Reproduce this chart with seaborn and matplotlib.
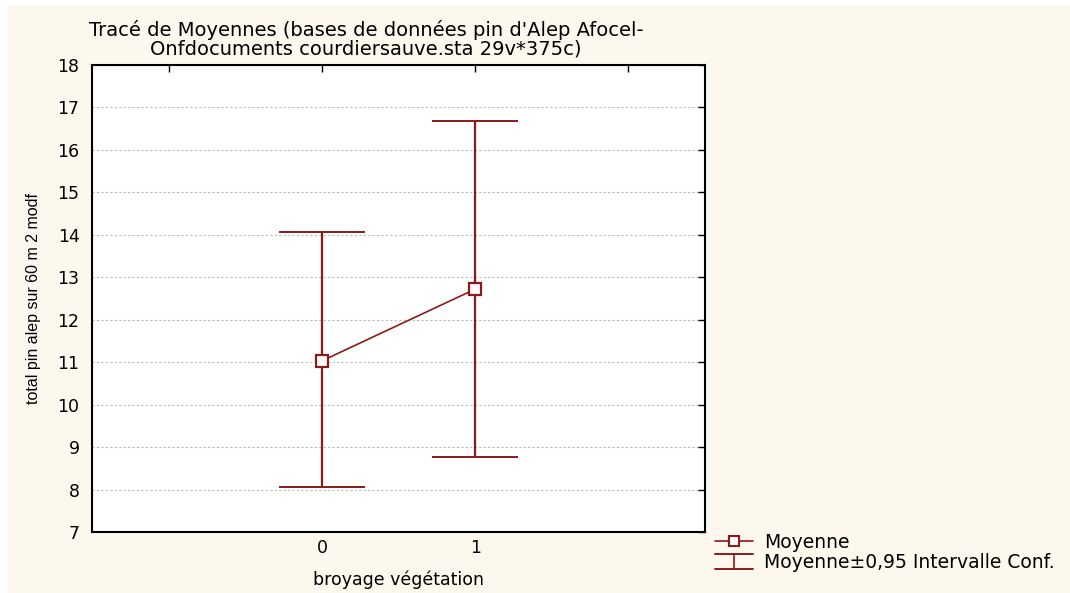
import numpy as np
import pandas as pd
import matplotlib
matplotlib.use("Agg")
import matplotlib.pyplot as plt
import seaborn as sns
from matplotlib.lines import Line2D
from matplotlib.legend_handler import HandlerBase
from matplotlib.patches import Rectangle

# ----------------------------------------
# DATA
# ----------------------------------------
groups = [0, 1]
means = [11.03, 12.72]
ci_low = [8.05, 8.77]
ci_high = [14.07, 16.68]

title = ("Tracé de Moyennes (bases de données pin d'Alep Afocel-\n"
         "Onfdocuments courdiersauve.sta 29v*375c)")
x_label = "broyage végétation"
y_label = "total pin alep sur 60 m 2 modf"
legend_labels = ["Moyenne", "Moyenne±0,95 Intervalle Conf."]

df = pd.DataFrame({"groupe": groups, "moyenne": means,
                   "bas": ci_low, "haut": ci_high})

# ----------------------------------------
# STYLE
# ----------------------------------------
sns.set_style("white")
plt.rcParams["font.family"] = ["DejaVu Sans"]
plt.rcParams["text.color"] = "black"
plt.rcParams["axes.labelcolor"] = "black"

red = "#8B1A1A"
cream = "#FDF8EE"

fig = plt.figure(figsize=(10.7, 5.93), dpi=100, facecolor="white")
fig.patches.append(Rectangle((8 / 1070, 0), 1, 1 - 5 / 593,
                             transform=fig.transFigure, facecolor=cream,
                             edgecolor="none", zorder=-10))
ax = fig.add_axes([92 / 1070, 1 - 532 / 593, (705 - 92) / 1070, (532 - 65) / 593])
ax.set_facecolor("white")

# confidence interval bars
yerr = np.array([df["moyenne"] - df["bas"], df["haut"] - df["moyenne"]])
ax.errorbar(df["groupe"], df["moyenne"], yerr=yerr, fmt="none",
            ecolor=red, elinewidth=1.6, capsize=31, capthick=1.4, zorder=2)

# mean line + markers
sns.lineplot(data=df, x="groupe", y="moyenne", ax=ax, color=red,
             linewidth=1.2, marker="s", markersize=8.5,
             markerfacecolor="white", markeredgecolor=red,
             markeredgewidth=1.6, zorder=3)

# ----------------------------------------
# AXES
# ----------------------------------------
ax.set_xlim(-1.5, 2.5)
ax.set_ylim(7, 18)
ax.set_xticks([-1, 0, 1, 2])
ax.set_xticklabels(["", "0", "1", ""])
ax.set_yticks(np.arange(7, 19, 1))
ax.tick_params(direction="in", length=5, width=1, top=True, right=True,
               labelsize=12.5, colors="black")
ax.tick_params(axis="y", pad=9)
ax.tick_params(axis="x", pad=5)
ax.yaxis.grid(True, linestyle=(0, (2, 2)), color="#BBBBBB", linewidth=0.8)
ax.xaxis.grid(False)
for s in ax.spines.values():
    s.set_color("black")
    s.set_linewidth(1.5)

ax.set_xlabel(x_label, fontsize=12.5)
ax.xaxis.set_label_coords(0.5, -0.083)
ax.set_ylabel(y_label, fontsize=11.5, family=["Liberation Sans", "DejaVu Sans"])
ax.yaxis.set_label_coords(-0.083, 0.5)

fig.text(366 / 1070, 1 - 39 / 593, title, ha="center", va="center",
         fontsize=14, linespacing=1.0)


# ----------------------------------------
# LEGEND
# ----------------------------------------
class MeanHandler(HandlerBase):
    def create_artists(self, legend, orig, xd, yd, w, h, fs, trans):
        y = yd + h / 2
        line = Line2D([xd, xd + w], [y, y], color=red, lw=1.2, transform=trans)
        mk = Line2D([xd + w / 2], [y], marker="s", markersize=7.5,
                    markerfacecolor="white", markeredgecolor=red,
                    markeredgewidth=1.5, transform=trans)
        return [line, mk]


class CIHandler(HandlerBase):
    def create_artists(self, legend, orig, xd, yd, w, h, fs, trans):
        y = yd + h / 2
        top = y + 6
        bot = y - 5
        a = Line2D([xd, xd + w], [top, top], color=red, lw=1.4, transform=trans)
        b = Line2D([xd, xd + w], [bot, bot], color=red, lw=1.4, transform=trans)
        c = Line2D([xd + w / 2, xd + w / 2], [bot, top], color=red, lw=1.2,
                   transform=trans)
        return [a, b, c]


h_mean = Line2D([], [])
h_ci = Line2D([], [])
fig.legend([h_mean, h_ci], legend_labels,
           handler_map={h_mean: MeanHandler(), h_ci: CIHandler()},
           loc="upper left", bbox_to_anchor=(715 / 1070, 1 - 533 / 593),
           frameon=False, fontsize=13.5, handlelength=2.0, handletextpad=0.6,
           labelspacing=0.08, borderaxespad=0, borderpad=0)

fig.savefig("out.png", dpi=100, facecolor=fig.get_facecolor())
